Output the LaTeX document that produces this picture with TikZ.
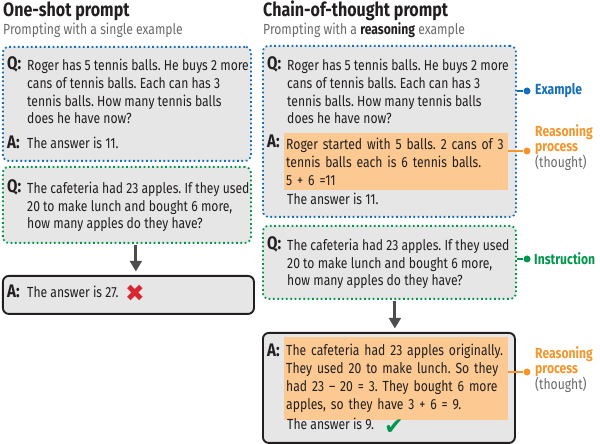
\documentclass[tikz,border=0pt]{standalone}
\usepackage{fontspec}
\setmainfont[FakeStretch=0.83]{Fira Sans}
\newfontfamily\symfont{DejaVu Sans}
\usetikzlibrary{arrows.meta}
\frenchspacing

\definecolor{ink}{RGB}{35,31,32}
\definecolor{boxgray}{RGB}{230,230,230}
\definecolor{exblue}{RGB}{20,110,185}
\definecolor{insgreen}{RGB}{0,150,75}
\definecolor{rsorange}{RGB}{245,150,45}
\definecolor{rsfill}{RGB}{251,201,145}
\definecolor{arrgray}{RGB}{77,77,77}
\definecolor{subgray}{RGB}{105,105,105}
\definecolor{wrongred}{RGB}{215,40,50}

\begin{document}
\begin{tikzpicture}[
  font=\fontsize{12.5}{15.3}\selectfont,
  text=ink,
  box/.style={rounded corners=5pt, fill=boxgray, inner sep=0pt, anchor=north west},
  exbox/.style={box, draw=exblue, line width=1.5pt, dash pattern=on 1.5pt off 2.2pt},
  insbox/.style={box, draw=insgreen, line width=1.5pt, dash pattern=on 1.5pt off 2.2pt},
  ansbox/.style={box, draw=ink, line width=1.6pt},
  title/.style={anchor=base west, inner sep=0pt, font=\fontsize{16.5}{16.5}\selectfont\bfseries},
  subtitle/.style={anchor=base west, inner sep=0pt, text=subgray},
  tag/.style={anchor=base west, inner sep=0pt, font=\fontsize{15.5}{15.5}\selectfont\bfseries},
  txt/.style={anchor=base west, inner sep=0pt, align=left},
  reason/.style={fill=rsfill, anchor=north west, inner xsep=0.06cm, inner ysep=4pt,
    text width=6.6cm, align=left},
  dot/.style={circle, fill, inner sep=0pt, minimum size=0.21cm},
  lbl/.style={anchor=base west, inner sep=0pt, align=left, font=\fontsize{12.5}{12.75}\selectfont\bfseries},
  link/.style={line width=1.3pt},
  arr/.style={-{Triangle[width=10pt,length=9pt]}, line width=2.5pt, draw=arrgray,
    shorten <=1pt, shorten >=3pt},
  verdict/.style={inner sep=0pt, font=\symfont\fontsize{20}{20}\selectfont},
]
  \useasboundingbox (0,0) rectangle (18,-13.32);

  % ===== one-shot prompt =====
  \node[title] (oneT) at (0.09,-0.51) {One-shot prompt};
  \node[subtitle] (oneS) at (0.09,-1.05) {Prompting with a single example};

  \node[exbox, minimum width=7.44cm, minimum height=3.42cm] (exL) at (0.06,-1.38) {};
  \node[tag] (qExLT) at (0.21,-2.1) {Q:};
  \node[txt] (qExL) at (0.81,-3.72)
    {Roger has 5 tennis balls. He buys 2 more\\cans of tennis balls. Each can has 3\\
     tennis balls. How many tennis balls\\does he have now?};
  \node[tag] (aExLT) at (0.21,-4.47) {A:};
  \node[txt] (aExL) at (0.81,-4.47) {The answer is 11.};

  \node[insbox, minimum width=7.44cm, minimum height=2.28cm] (instL) at (0.06,-4.98) {};
  \node[tag] (qInLT) at (0.21,-5.79) {Q:};
  \node[txt] (qInL) at (0.81,-6.87)
    {The cafeteria had 23 apples. If they used\\20 to make lunch and bought 6 more,\\
     how many apples do they have?};

  \node[ansbox, minimum width=7.53cm, minimum height=1.14cm] (ansL) at (0.06,-8.25) {};
  \node[tag] (aAnsLT) at (0.21,-8.94) {A:};
  \node[txt] (aAnsL) at (0.81,-8.94) {The answer is 27.};
  \node[verdict, text=wrongred] (wrong) at (4.05,-8.79) {✖};

  \draw[arr] ([xshift=0.27cm]instL.south) -- ([xshift=0.27cm]instL.south |- ansL.north);

  % ===== chain-of-thought prompt =====
  \node[title] (cotT) at (7.89,-0.51) {Chain-of-thought prompt};
  \node[subtitle] (cotS) at (7.89,-1.05)
    {Prompting with a \textcolor{ink}{\bfseries reasoning} example};

  \node[exbox, minimum width=7.59cm, minimum height=5.13cm] (exR) at (7.86,-1.35) {};
  \node[tag] (qExRT) at (8.01,-2.1) {Q:};
  \node[txt] (qExR) at (8.61,-3.72)
    {Roger has 5 tennis balls. He buys 2 more\\cans of tennis balls. Each can has 3\\
     tennis balls. How many tennis balls\\does he have now?};
  \node[tag] (aExRT) at (8.01,-4.44) {A:};
  \node[reason] (cotR) at (8.52,-3.99)
    {Roger started with 5 balls. 2 cans of 3\\tennis balls each is 6 tennis balls.\\5 + 6 =11};
  \node[txt] (aExR) at (8.61,-6.15) {The answer is 11.};

  \node[insbox, minimum width=7.59cm, minimum height=2.19cm] (instR) at (7.86,-6.75) {};
  \node[tag] (qInRT) at (8.01,-7.5) {Q:};
  \node[txt] (qInR) at (8.61,-8.58)
    {The cafeteria had 23 apples. If they used\\20 to make lunch and bought 6 more,\\
     how many apples do they have?};

  \node[ansbox, minimum width=7.56cm, minimum height=3.30cm] (ansR) at (7.86,-9.96) {};
  \node[tag] (aAnsRT) at (8.01,-10.71) {A:};
  \node[reason, inner ysep=6pt] (cotR2) at (8.52,-10.11)
    {The cafeteria had 23 apples originally.\\They used 20 to make lunch. So they\\
     had 23 -- 20 = 3. They bought 6 more\\apples, so they have 3 + 6 = 9.};
  \node[txt] (aAnsR) at (8.61,-12.9) {The answer is 9.};
  \node[verdict, text=insgreen] (right) at (11.82,-12.81) {✔};

  \draw[arr] ([xshift=0.165cm]instR.south) -- ([xshift=0.165cm]instR.south |- ansR.north);

  % ===== side labels =====
  \node[dot, exblue] (exDot) at (15.81,-2.73) {};
  \node[lbl, text=exblue] (exLbl) at (16.05,-2.85) {Example};
  \draw[link, exblue] (exR.east |- exDot) -- (exDot);

  \node[dot, rsorange] (rsDot) at (15.81,-4.53) {};
  \node[lbl, text=rsorange] (rsLbl) at (16.05,-5.04)
    {Reasoning\\process\\\textcolor{subgray}{\mdseries (thought)}};
  \draw[link, rsorange] (cotR.east |- rsDot) -- (rsDot);

  \node[dot, insgreen] (insDot) at (15.81,-7.77) {};
  \node[lbl, text=insgreen] (insLbl) at (16.02,-7.95) {Instruction};
  \draw[link, insgreen] (instR.east |- insDot) -- (insDot);

  \node[dot, rsorange] (rsDot2) at (15.81,-11.16) {};
  \node[lbl, text=rsorange] (rsLbl2) at (16.05,-11.7)
    {Reasoning\\process\\\textcolor{subgray}{\mdseries (thought)}};
  \draw[link, rsorange] (cotR2.east |- rsDot2) -- (rsDot2);
\end{tikzpicture}
\end{document}
